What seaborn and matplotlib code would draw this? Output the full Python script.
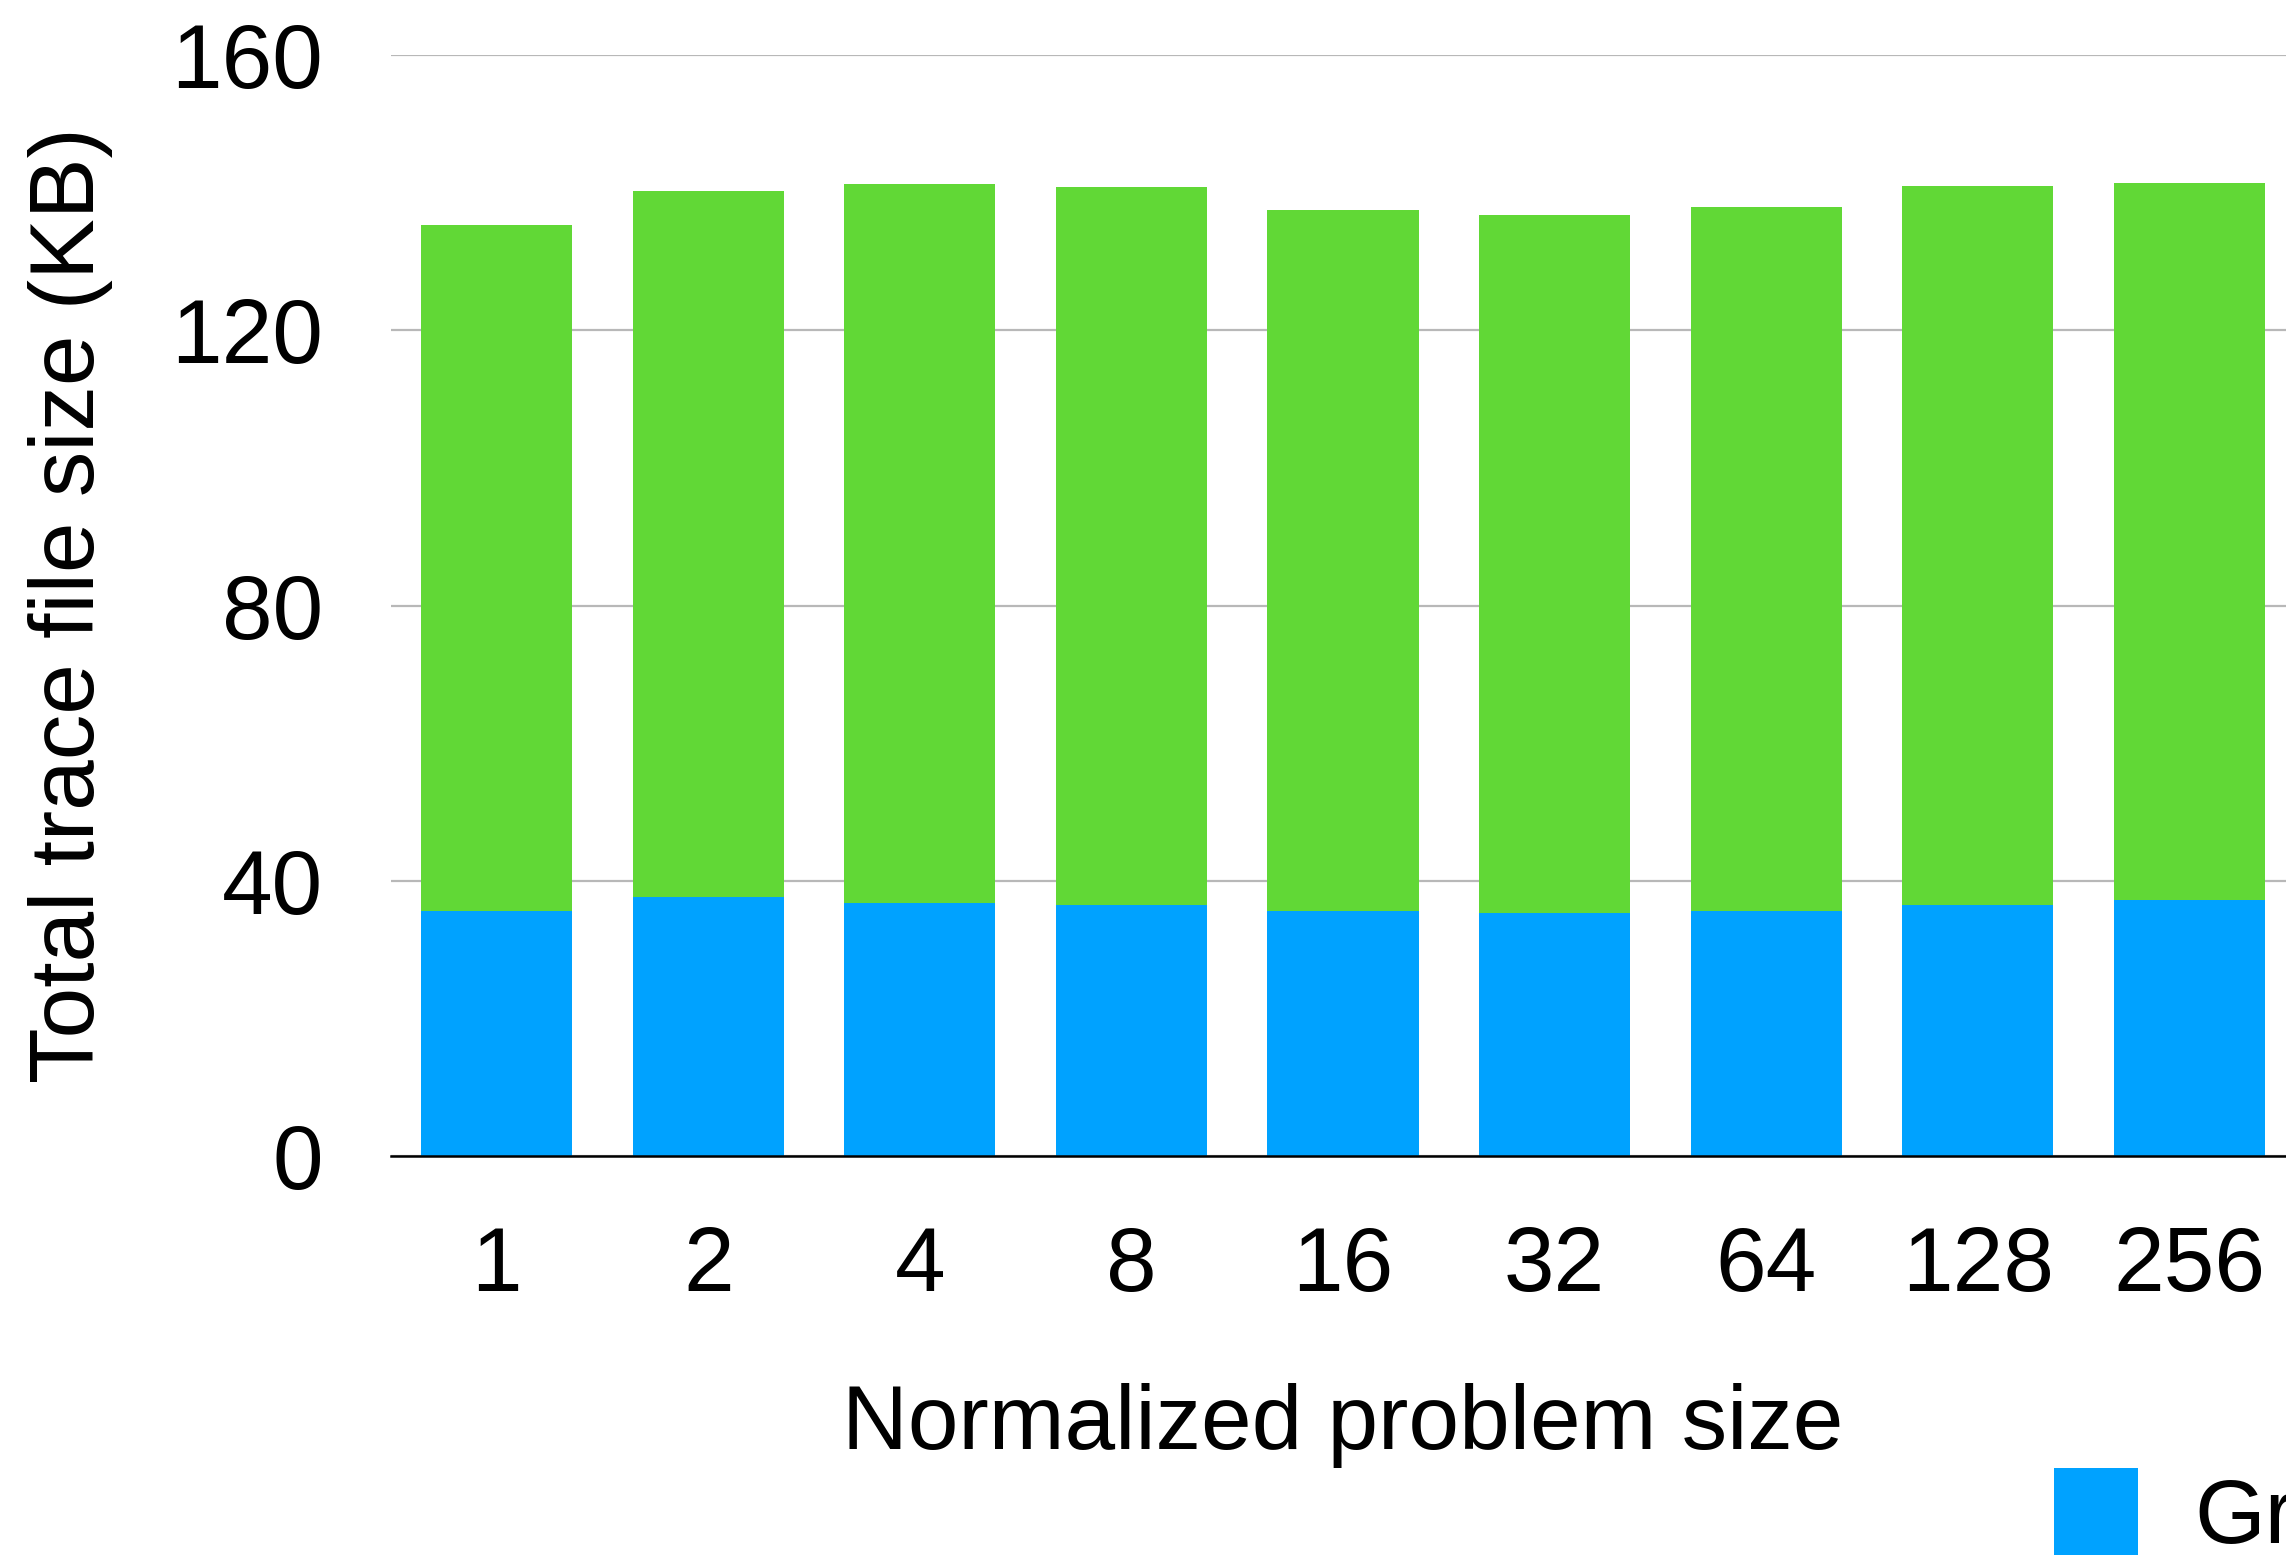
import matplotlib
matplotlib.use("Agg")
import matplotlib.pyplot as plt
import seaborn as sns
import pandas as pd
from matplotlib.patches import Patch

# Normalized problem sizes on the x axis
sizes = ["1", "2", "4", "8", "16", "32", "64", "128", "256"]
# Grammar part of each trace file (KB)
grammar_kb = [35.6, 37.6, 36.8, 36.5, 35.6, 35.3, 35.6, 36.5, 37.2]
# Total trace file size (KB): grammar + timing
total_kb = [135.3, 140.3, 141.2, 140.8, 137.5, 136.7, 137.9, 140.9, 141.4]

series_names = ["Grammar", "Timing"]
blue = "#00A2FF"
green = "#61D836"

df = pd.DataFrame({"size": sizes, "grammar": grammar_kb, "total": total_kb})

sns.set_theme(style="white")
plt.rcParams["font.family"] = ["Liberation Sans", "DejaVu Sans"]
plt.rcParams["text.color"] = "black"

W, H = 2286, 1559
fig = plt.figure(figsize=(W / 100, H / 100), dpi=100)
ax = fig.add_axes([391 / W, (H - 1156) / H, 1904 / W, 1101 / H])

fs = 65.5

# Stacked bars: total drawn first in green, the grammar part on top in blue
sns.barplot(data=df, x="size", y="total", color=green, width=0.714,
            saturation=1, ax=ax, zorder=2, linewidth=0)
sns.barplot(data=df, x="size", y="grammar", color=blue, width=0.714,
            saturation=1, ax=ax, zorder=3, linewidth=0)

ax.set_xlim(-0.5, len(sizes) - 0.5)
ax.set_ylim(0, 160)
ax.set_yticks([0, 40, 80, 120, 160])
ax.yaxis.grid(True, color="#B8B8B8", linewidth=1.6, zorder=0)
ax.xaxis.grid(False)
ax.set_axisbelow(True)

for side in ["left", "right", "top"]:
    ax.spines[side].set_visible(False)
ax.spines["bottom"].set_color("black")
ax.spines["bottom"].set_linewidth(1.8)
ax.spines["bottom"].set_zorder(4)

ax.tick_params(axis="y", length=0, pad=49, labelsize=fs, colors="black")
ax.tick_params(axis="x", length=0, pad=50, labelsize=fs, colors="black")

ax.set_xlabel("Normalized problem size", fontsize=fs, labelpad=52, color="black")
ax.set_ylabel("Total trace file size (KB)", fontsize=fs, labelpad=42, color="black")

handles = [Patch(facecolor=blue, edgecolor="none"),
           Patch(facecolor=green, edgecolor="none")]
fig.legend(handles, series_names, loc="upper left",
           bbox_to_anchor=(2054 / W, 1 - 1468 / H), ncol=2, frameon=False,
           fontsize=fs, labelcolor="black", borderpad=0, borderaxespad=0,
           handlelength=0.92, handleheight=1.1, handletextpad=0.62,
           columnspacing=1.5)

fig.savefig("out.png", dpi=100)
